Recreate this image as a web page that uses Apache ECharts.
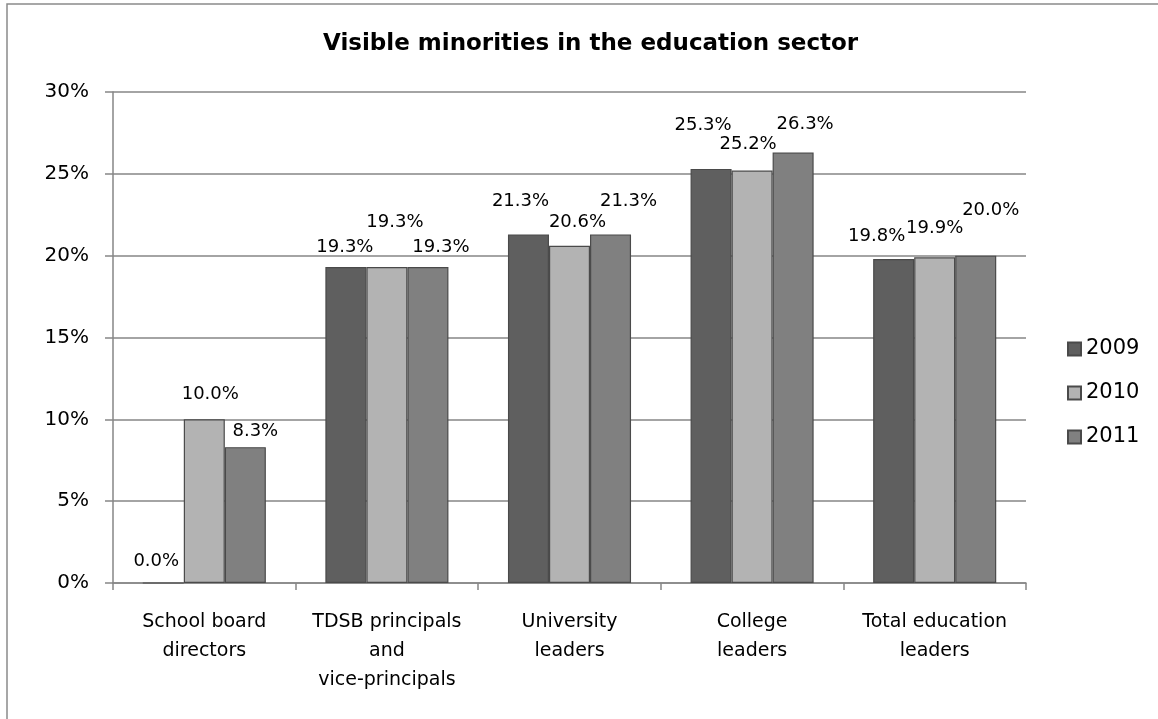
<!DOCTYPE html>
<html>
<head>
<meta charset="utf-8">
<script src="https://cdn.jsdelivr.net/npm/echarts@6/dist/echarts.min.js"></script>
<style>
  html, body { margin: 0; padding: 0; background: #fff; }
  #chart { width: 1158px; height: 719px; }
</style>
</head>
<body>
<div id="chart"></div>
<script>
// Share of visible minorities among education-sector leaders, by year (%)
const categories = [
  'School board\ndirectors',
  'TDSB principals\nand\nvice-principals',
  'University\nleaders',
  'College\nleaders',
  'Total education\nleaders'
];
const years = ['2009', '2010', '2011'];
const values2009 = [0.0, 19.3, 21.3, 25.3, 19.8];
const values2010 = [10.0, 19.3, 20.6, 25.2, 19.9];
const values2011 = [8.3, 19.3, 21.3, 26.3, 20.0];
const yTicks = [0, 5, 10, 15, 20, 25, 30];

// Hand-placed label nudges so neighbouring value labels don't collide
const labelNudge = {
  '2009': [[-7, -7], [-1, -6], [-8, -19], [-8, -30], [-17, -9]],
  '2010': [[6, -11], [8, -31], [8, -10], [-4, -12], [0, -15]],
  '2011': [[10, -2], [13, -6], [18, -19], [12, -14], [15, -31]]
};

const FONT = '"DejaVu Sans", sans-serif';
const colors = { '2009': '#5f5f5f', '2010': '#b3b3b3', '2011': '#808080' };
const seriesValues = { '2009': values2009, '2010': values2010, '2011': values2011 };

const chart = echarts.init(document.getElementById('chart'));

const series = years.map(y => ({
  name: y,
  type: 'bar',
  barGap: '0%',
  barCategoryGap: '32.6%',
  itemStyle: { color: colors[y], borderColor: '#4a4a4a', borderWidth: 1.2 },
  label: {
    show: true,
    position: 'top',
    distance: 5,
    color: '#000',
    fontFamily: FONT,
    fontSize: 18,
    formatter: p => p.value.toFixed(1) + '%'
  },
  data: seriesValues[y].map((v, i) => ({
    value: v,
    label: { offset: labelNudge[y][i] }
  }))
}));

chart.setOption({
  animation: false,
  backgroundColor: '#fff',
  graphic: [{
    type: 'rect',
    shape: { x: 7, y: 4, width: 1300, height: 900 },
    style: { fill: 'none', stroke: '#8a8a8a', lineWidth: 1.5 },
    silent: true,
    z: -1
  }],
  title: {
    text: 'Visible minorities in the education sector',
    left: 318,
    top: 28,
    textStyle: { fontFamily: FONT, fontWeight: 'bold', fontSize: 23, color: '#000' }
  },
  legend: {
    orient: 'vertical',
    left: 1062,
    top: 332,
    itemWidth: 13,
    itemHeight: 13,
    itemGap: 20,
    icon: 'rect',
    data: years,
    textStyle: { fontFamily: FONT, fontSize: 21, color: '#000', lineHeight: 24 }
  },
  grid: { left: 113, right: 132, top: 92, bottom: 136 },
  xAxis: {
    type: 'category',
    data: categories,
    axisLine: { lineStyle: { color: '#868686', width: 1.5 } },
    axisTick: { show: true, length: 7, lineStyle: { color: '#868686', width: 1.5 } },
    axisLabel: {
      fontFamily: FONT, fontSize: 19, color: '#000',
      lineHeight: 29, margin: 25, interval: 0
    },
    splitLine: { show: false }
  },
  yAxis: {
    type: 'value',
    min: yTicks[0],
    max: yTicks[yTicks.length - 1],
    interval: yTicks[1] - yTicks[0],
    axisLine: { show: true, lineStyle: { color: '#868686', width: 1.5 } },
    axisTick: { show: true, length: 8, lineStyle: { color: '#868686', width: 1.5 } },
    axisLabel: {
      fontFamily: FONT, fontSize: 20, color: '#000', margin: 24,
      formatter: v => v + '%'
    },
    splitLine: { lineStyle: { color: '#868686', width: 1.5 } }
  },
  series: series
});
</script>
</body>
</html>
